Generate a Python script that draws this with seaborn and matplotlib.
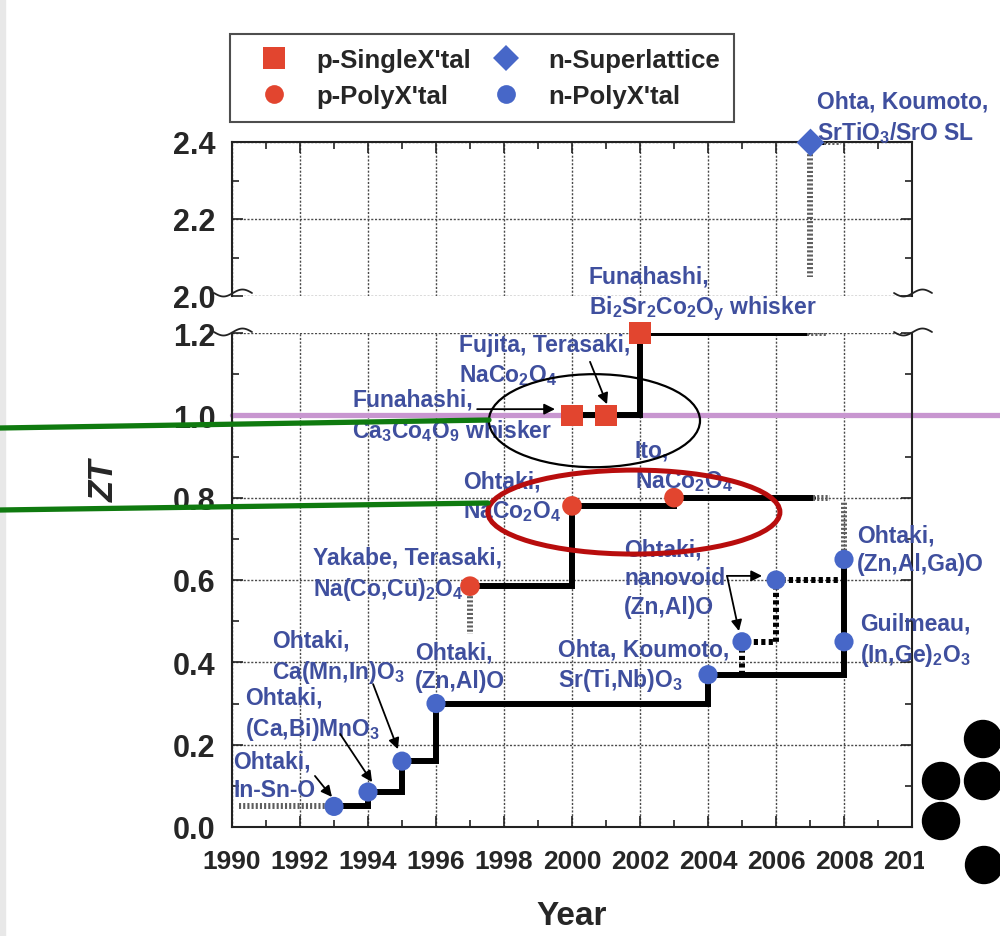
import matplotlib
matplotlib.use("Agg")
import matplotlib.pyplot as plt
import seaborn as sns
import numpy as np
import pandas as pd
from matplotlib.lines import Line2D
from matplotlib.patches import Ellipse, Rectangle
from matplotlib.transforms import Bbox

sns.set_style("white")
plt.rcParams["font.family"] = ["Liberation Sans", "DejaVu Sans"]
plt.rcParams["mathtext.fontset"] = "custom"
plt.rcParams["mathtext.rm"] = "Liberation Sans:bold"
plt.rcParams["mathtext.it"] = "Liberation Sans:italic:bold"
plt.rcParams["mathtext.bf"] = "Liberation Sans:bold"
plt.rcParams["mathtext.default"] = "rm"

# ---------------- reported ZT values ----------------
p_single_year = [2000, 2001, 2002]
p_single_zt = [1.0, 1.0, 1.2]
p_poly_year = [1997, 2000, 2003]
p_poly_zt = [0.585, 0.78, 0.80]
n_sl_year = [2007]
n_sl_zt = [2.4]
n_poly_year = [1993, 1994, 1995, 1996, 2004, 2005, 2006, 2008, 2008]
n_poly_zt = [0.05, 0.085, 0.16, 0.30, 0.37, 0.45, 0.60, 0.45, 0.65]

# record envelopes (step lines)
n_record_year = [1993, 1994, 1995, 1996, 2004, 2008]
n_record_zt = [0.05, 0.085, 0.16, 0.30, 0.37, 0.65]
nanovoid_year = [2005, 2005, 2006, 2008]
nanovoid_zt = [0.37, 0.45, 0.60, 0.60]
p_poly_record_year = [1997, 2000, 2003, 2007.1]
p_poly_record_zt = [0.585, 0.78, 0.80, 0.80]
p_single_record_year = [2000, 2002, 2006.9]
p_single_record_zt = [1.0, 1.2, 1.2]
sl_record_year = [2007, 2007.4]
sl_record_zt = [2.4, 2.4]

# uncertain / extrapolated ranges (x0, x1, y0, y1)
range_low = [(1990.2, 1992.8, 0.05, 0.05), (1997, 1997, 0.57, 0.47),
             (2008, 2008, 0.66, 0.79), (2007.1, 2007.6, 0.80, 0.80),
             (2006.9, 2007.5, 1.2, 1.2)]
range_high = [(2007.4, 2007.9, 2.4, 2.4), (2007, 2007, 2.38, 2.05)]

target_zt = 1.0

kinds = ["p-SingleX'tal", "p-PolyX'tal", "n-Superlattice", "n-PolyX'tal"]

# annotation labels: (text, x, y)
labels_low = [
    ("Funahashi,\nBi$_2$Sr$_2$Co$_2$O$_y$ whisker", 2000.50, 1.297),
    ("Fujita, Terasaki,\nNaCo$_2$O$_4$", 1996.68, 1.134),
    ("Funahashi,\nCa$_3$Co$_4$O$_9$ whisker", 1993.53, 1.0),
    ("Ito,\nNaCo$_2$O$_4$", 2001.85, 0.877),
    ("Ohtaki,\nNaCo$_2$O$_4$", 1996.79, 0.803),
    ("Yakabe, Terasaki,\nNa(Co,Cu)$_2$O$_4$", 1992.38, 0.615),
    ("Ohtaki,\nnanovoid\n(Zn,Al)O", 2001.53, 0.606),
    ("Ohta, Koumoto,\nSr(Ti,Nb)O$_3$", 1999.59, 0.393),
    ("Ohtaki,\n(Zn,Al,Ga)O", 2008.38, 0.674),
    ("Guilmeau,\n(In,Ge)$_2$O$_3$", 2008.47, 0.454),
    ("Ohtaki,\n(Zn,Al)O", 1995.38, 0.390),
    ("Ohtaki,\nCa(Mn,In)O$_3$", 1991.18, 0.413),
    ("Ohtaki,\n(Ca,Bi)MnO$_3$", 1990.38, 0.276),
    ("Ohtaki,\nIn-Sn-O", 1990.03, 0.125),
]
labels_high = [("Ohta, Koumoto,\nSrTiO$_3$/SrO SL", 2007.21, 2.465)]

# arrows: (tail, head)
arrows = [
    ((1992.44, 0.124), (1992.94, 0.073)),
    ((1993.18, 0.226), (1994.12, 0.109)),
    ((1994.15, 0.347), (1994.88, 0.189)),
    ((1997.21, 1.015), (1999.50, 1.015)),
    ((2000.53, 1.130), (2001.03, 1.027)),
    ((2004.56, 0.610), (2005.59, 0.610)),
    ((2004.56, 0.610), (2004.91, 0.476)),
]

year_ticks = list(range(1990, 2011, 2))
year_labels = [str(y) for y in year_ticks]
low_ticks = [0.0, 0.2, 0.4, 0.6, 0.8, 1.0, 1.2]
high_ticks = [2.0, 2.2, 2.4]

RED = "#e2452f"
BLUE = "#4767c8"
TEXT_BLUE = "#3f4f9e"
HATCH = "#5e5e5e"

palette = dict(zip(kinds, [RED, RED, BLUE, BLUE]))
markers = dict(zip(kinds, ["s", "o", "D", "o"]))
sizes = dict(zip(kinds, [240, 200, 200, 190]))

points = pd.DataFrame({
    "year": p_single_year + p_poly_year + n_sl_year + n_poly_year,
    "zt": p_single_zt + p_poly_zt + n_sl_zt + n_poly_zt,
    "kind": [kinds[0]] * 3 + [kinds[1]] * 3 + [kinds[2]] + [kinds[3]] * 9,
})

W, H = 1000, 937
fig = plt.figure(figsize=(W / 100, H / 100), dpi=100)


def px_box(left, top, right, bottom):
    return [left / W, 1 - bottom / H, (right - left) / W, (bottom - top) / H]


ax_top = fig.add_axes(px_box(232, 143, 912, 297))
ax_bot = fig.add_axes(px_box(232, 334, 912, 828))

for ax in (ax_top, ax_bot):
    ax.set_xlim(1990, 2010)
    ax.set_xticks(year_ticks)
    ax.set_xticks(range(1991, 2010, 2), minor=True)
    ax.grid(True, which="major", color="#4a4a4a", lw=1.0, ls=(0, (1.5, 1.2)))
    ax.set_axisbelow(True)
    ax.tick_params(which="both", direction="in", left=True, right=True,
                   width=1.2, color="#222222")
    ax.tick_params(which="major", length=8)
    ax.tick_params(which="minor", length=5)
    ax.tick_params(axis="y", labelsize=22, pad=12)
    for s in ax.spines.values():
        s.set_linewidth(1.5)
        s.set_color("#222222")

ax_top.set_ylim(2.0, 2.4)
ax_top.set_yticks(high_ticks)
ax_top.set_yticklabels([f"{v:.1f}" for v in high_ticks], fontweight="bold")
ax_top.set_yticks([2.1, 2.3], minor=True)
ax_top.tick_params(axis="x", which="both", top=True, bottom=False, labelbottom=False)
ax_top.spines["bottom"].set_visible(False)

ax_bot.set_ylim(0.0, 1.2)
ax_bot.set_yticks(low_ticks)
ax_bot.set_yticklabels([f"{v:.1f}" for v in low_ticks], fontweight="bold")
ax_bot.set_yticks([0.1, 0.3, 0.5, 0.7, 0.9, 1.1], minor=True)
ax_bot.tick_params(axis="x", which="both", top=False, bottom=True, labelsize=19, pad=16)
ax_bot.set_xticklabels(year_labels, fontweight="bold")
ax_bot.spines["top"].set_visible(False)

# ZT = 1 reference line
sns.lineplot(x=[1990, 2012.6], y=[target_zt, target_zt], ax=ax_bot, color="#c896d0",
             lw=3.8, clip_on=False, zorder=2)


def step(ax, xs, ys, **kw):
    sns.lineplot(x=xs, y=ys, ax=ax, estimator=None, sort=False,
                 drawstyle="steps-post", solid_joinstyle="miter", **kw)


step(ax_bot, n_record_year, n_record_zt, color="black", lw=4.3, zorder=3)
step(ax_bot, p_poly_record_year, p_poly_record_zt, color="black", lw=4.3, zorder=3)
step(ax_bot, p_single_record_year, p_single_record_zt, color="black", lw=4.3, zorder=3)
step(ax_bot, nanovoid_year, nanovoid_zt, color="black", lw=4.3,
     ls=(0, (0.7, 0.55)), zorder=3)
step(ax_top, sl_record_year, sl_record_zt, color="black", lw=4.3, zorder=3)

for ax, ranges in ((ax_bot, range_low), (ax_top, range_high)):
    for x0, x1, y0, y1 in ranges:
        sns.lineplot(x=[x0, x1], y=[y0, y1], ax=ax, estimator=None, sort=False,
                     color=HATCH, lw=4.3, ls=(0, (0.35, 0.35)), zorder=3)

for ax, subset in ((ax_bot, points[points.zt < 2]), (ax_top, points[points.zt >= 2])):
    sns.scatterplot(data=subset, x="year", y="zt", hue="kind", style="kind",
                    size="kind", sizes=sizes, palette=palette, markers=markers,
                    hue_order=kinds, style_order=kinds, size_order=kinds,
                    linewidth=0, legend=False, ax=ax, zorder=5, clip_on=False)
    ax.set_xlabel("")
    ax.set_ylabel("")

ax_bot.set_xlabel("Year", fontsize=24, fontweight="bold", labelpad=19)

for ax, labels in ((ax_bot, labels_low), (ax_top, labels_high)):
    for txt, x, y in labels:
        ax.text(x, y, txt, color=TEXT_BLUE, fontsize=16.5, fontweight="bold",
                ha="left", va="center", linespacing=1.32, clip_on=False, zorder=6)

for tail, head in arrows:
    ax_bot.annotate("", xy=head, xytext=tail,
                    arrowprops=dict(arrowstyle="-|>", color="black", lw=1.3,
                                    mutation_scale=16, shrinkA=0, shrinkB=0),
                    zorder=6)

# highlighted regions
ax_bot.add_patch(Ellipse((2000.66, 0.987), 6.21, 0.226, fill=False, ec="black",
                         lw=1.6, clip_on=False, zorder=7))
ax_bot.add_patch(Ellipse((2001.82, 0.765), 8.59, 0.204, fill=False, ec="#b80d0d",
                         lw=3.6, clip_on=False, zorder=7))

fig.text(104 / W, 1 - 481 / H, "ZT", rotation=90, fontsize=25, fontweight="bold",
         fontstyle="italic", ha="center", va="center")

# legend
handles = [
    Line2D([], [], ls="none", marker="s", ms=16.5, color=RED, mew=0),
    Line2D([], [], ls="none", marker="o", ms=13.5, color=RED, mew=0),
    Line2D([], [], ls="none", marker="D", ms=13.5, color=BLUE, mew=0),
    Line2D([], [], ls="none", marker="o", ms=13.5, color=BLUE, mew=0),
]
leg = fig.legend(handles, kinds, loc="upper left", bbox_to_anchor=(230 / W, 1 - 35 / H),
                 ncol=2, frameon=True, fancybox=False, edgecolor="#222222",
                 prop=dict(weight="bold", size=18.5), borderpad=0.55,
                 handlelength=2.3, handletextpad=0.5, columnspacing=0.2,
                 labelspacing=0.45, borderaxespad=0)
leg.get_frame().set_linewidth(1.5)


# axis break marks
def wave(xc, yc):
    t = np.linspace(0, 1, 40)
    xs = xc - 18 + 38 * t
    ys = yc + 3.5 * np.sin(2 * np.pi * t)
    fig.add_artist(Line2D(xs / W, 1 - ys / H, color="#222222", lw=1.3,
                          transform=fig.transFigure))


for xc in (232, 912):
    for yc in (294, 333):
        wave(xc, yc)

# connector lines and marks
fig.add_artist(Line2D([0, 489 / W], [1 - 429 / H, 1 - 421 / H], color="#0f7a0f", lw=3.8,
                      transform=fig.transFigure, zorder=10))
fig.add_artist(Line2D([0, 488 / W], [1 - 511 / H, 1 - 504 / H], color="#0f7a0f", lw=3.8,
                      transform=fig.transFigure, zorder=10))
for cx, cy in [(983, 740), (941, 782), (983, 782), (941, 822), (984, 866)]:
    fig.add_artist(Ellipse((cx / W, 1 - cy / H), 37 / W, 37 / H, color="black",
                           transform=fig.transFigure, zorder=10))
fig.add_artist(Rectangle((0, 0), 5 / W, 1, color="#e8e8e8", transform=fig.transFigure,
                         zorder=0))

# last year label is cut at the frame edge
last = ax_bot.get_xticklabels()[-1]
last.set_clip_on(True)
last.set_clip_box(Bbox([[0, 0], [924, H]]))

fig.savefig("out.png", dpi=100)
